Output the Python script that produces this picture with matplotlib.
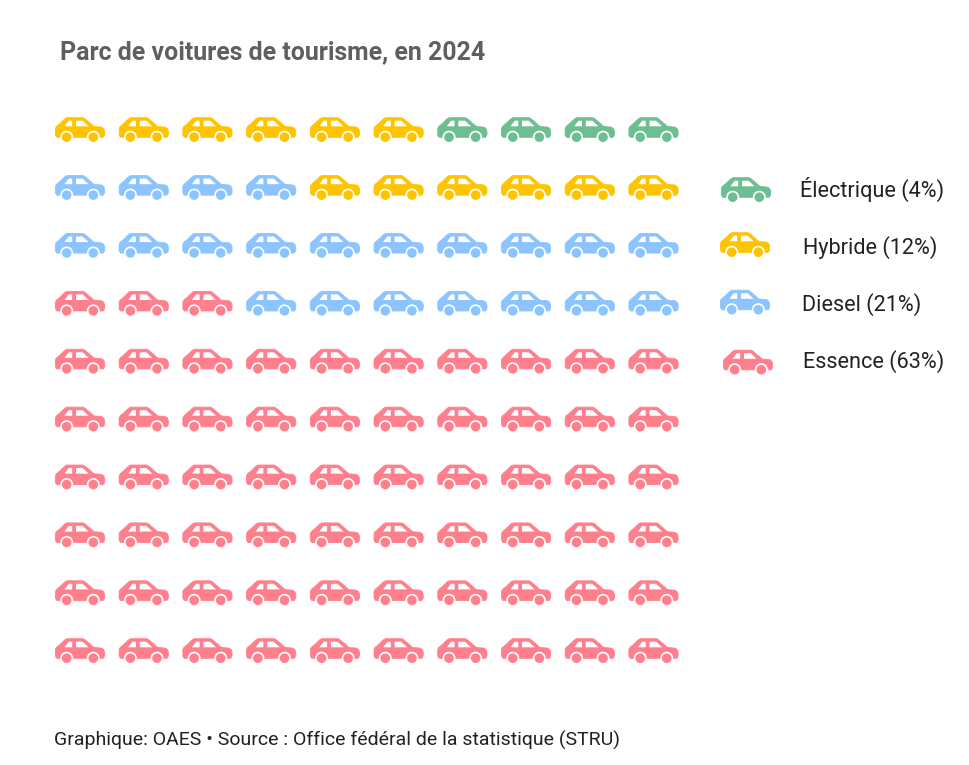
import numpy as np
import matplotlib
matplotlib.use('Agg')
import matplotlib.pyplot as plt
from matplotlib.path import Path
from matplotlib.patches import PathPatch, Circle
from matplotlib.transforms import Affine2D

title = 'Parc de voitures de tourisme, en 2024'
source = 'Graphique: OAES • Source : Office fédéral de la statistique (STRU)'

# filled from the bottom left corner, row by row
categories = ['Essence', 'Diesel', 'Hybride', 'Électrique']
counts = [63, 21, 12, 4]
colors = ['#FF7F8C', '#8CC4FF', '#FFC400', '#6DBE92']

legend_order = ['Électrique', 'Hybride', 'Diesel', 'Essence']
legend_labels = ['Électrique (4%)', 'Hybride (12%)', 'Diesel (21%)', 'Essence (63%)']

# car drawn in pixels, relative to its centre
BODY = [(-24.6, 5.5), (-24.6, -1), (-23.6, -3), (-20, -6), (-15, -10.8), (-13, -11.8), (3, -11.8), (5, -10.8),
        (14, -3), (21.5, -2.4), (23.6, -1), (24.6, 1.5), (24.6, 5.5), (23.2, 7.8), (-23.2, 7.8)]
WIN1 = [(-15.6, -3.2), (-11.2, -8.8), (-7.8, -8.8), (-7.8, -3.2)]
WIN2 = [(-4, -3.2), (8.6, -3.2), (2.6, -8.8), (-4, -8.8)]
WHEELS = [-13.3, 13.3]


def poly(points):
    codes = [Path.MOVETO] + [Path.LINETO] * (len(points) - 1) + [Path.CLOSEPOLY]
    return Path(points + [points[0]], codes)


def draw_car(ax, cx, cy, color):
    tr = Affine2D().translate(cx, cy) + ax.transData
    ax.add_patch(PathPatch(poly(BODY), fc=color, ec=color, lw=0.6, joinstyle='round', transform=tr))
    for win in [WIN1, WIN2]:
        ax.add_patch(PathPatch(poly(win), fc='white', ec='none', transform=tr))
    for wx in WHEELS:
        ax.add_patch(Circle((wx, 7.7), 6.5, fc='white', ec='none', transform=tr))
        ax.add_patch(Circle((wx, 7.7), 4.8, fc=color, ec='none', transform=tr))


def main():
    fig = plt.figure(figsize=(9.7, 7.65), dpi=100)
    ax = fig.add_axes([0, 0, 1, 1])
    ax.set_xlim(0, 970)
    ax.set_ylim(765, 0)
    ax.axis('off')

    xs = np.linspace(80, 653.5, 10)
    ys = np.linspace(129.5, 650.5, 10)

    seq = []
    for n, c in zip(counts, colors):
        seq += [c] * n
    for k, c in enumerate(seq):
        draw_car(ax, xs[k % 10], ys[9 - k // 10], c)

    car_x = [746, 745, 745, 748]
    car_y = [189.5, 244.5, 302, 362]
    text_x = [872.5, 870.5, 862, 873.5]
    text_y = [189.5, 247.5, 304.5, 361.5]
    for i, name in enumerate(legend_order):
        c = colors[categories.index(name)]
        draw_car(ax, car_x[i], car_y[i], c)
        ax.text(text_x[i], text_y[i], legend_labels[i], ha='center', va='center',
                fontsize=15.6, family='Roboto', color='#222222')

    ax.text(60, 52, title, ha='left', va='center', fontsize=17.95, family='Roboto',
            fontweight='bold', color='#5f5f5f')
    ax.text(54, 740, source, ha='left', va='center', fontsize=14, family='Roboto',
            color='#222222')

    fig.savefig('out.png', dpi=100)


if __name__ == "__main__":
    main()
